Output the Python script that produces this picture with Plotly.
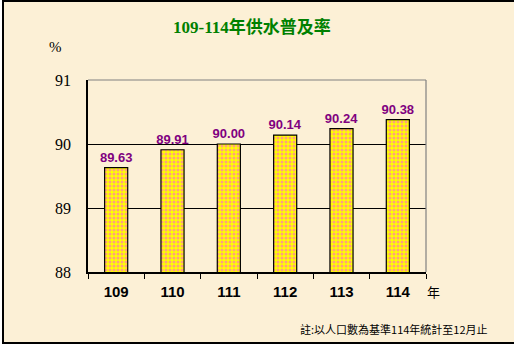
import plotly.graph_objects as go

years = ["109", "110", "111", "112", "113", "114"]
rates = [89.63, 89.91, 90.00, 90.14, 90.24, 90.38]
y_ticks = [88, 89, 90, 91]

W, H = 514, 345
L, R, T, B = 88, 88, 80, 73
pw, ph = W - L - R, H - T - B

def px(x):
    return (x - L) / pw

def py(y):
    return (H - B - y) / ph

fig = go.Figure()
fig.add_trace(go.Bar(
    x=years, y=rates, width=0.41,
    marker=dict(color="#FFFF00", line=dict(color="black", width=1.2),
                pattern=dict(shape=".", fgcolor="#FF40FF", bgcolor="#FFFF00",
                             size=4, solidity=0.45)),
    text=[f"{v:.2f}" for v in rates], textposition="outside",
    textfont=dict(family="Liberation Sans, Arial", size=13, color="#800080", weight="bold"),
    cliponaxis=False,
))

fig.update_layout(
    width=W, height=H,
    margin=dict(l=L, r=R, t=T, b=B),
    paper_bgcolor="white", plot_bgcolor="rgba(0,0,0,0)",
    showlegend=False, bargap=0.59,
    font=dict(family="Liberation Serif, Noto Sans CJK TC", color="black"),
    uniformtext=dict(minsize=13, mode="show"),
    xaxis=dict(type="category", showgrid=False, showline=True, linecolor="black", linewidth=1.5,
               ticks="outside", ticklen=5, tickcolor="black", tickson="boundaries",
               tickfont=dict(family="Liberation Sans, Arial", size=15, color="black", weight="bold"),
               ticklabelstandoff=5, mirror=False),
    yaxis=dict(range=[88, 91], tickvals=y_ticks, showgrid=True, gridcolor="black", gridwidth=1.2,
               showline=True, linecolor="black", linewidth=1.5, ticks="",
               tickfont=dict(family="Liberation Serif, Times New Roman", size=16, color="black"),
               ticklabelstandoff=12, zeroline=False),
    shapes=[
        dict(type="rect", xref="paper", yref="paper", x0=px(3), x1=px(530), y0=py(343), y1=py(1),
             fillcolor="#FCF0D6", line=dict(color="black", width=2), layer="below"),
        dict(type="line", xref="paper", yref="paper", x0=0, x1=1, y0=1, y1=1,
             line=dict(color="#808080", width=1.2)),
        dict(type="line", xref="paper", yref="paper", x0=1, x1=1, y0=0, y1=1,
             line=dict(color="#808080", width=1.2)),
    ],
    annotations=[
        dict(text="<b>109-114年供水普及率</b>", xref="paper", yref="paper", x=px(252), y=py(27),
             xanchor="center", yanchor="middle",
             showarrow=False, font=dict(family="Liberation Serif, Noto Sans CJK TC", size=17, color="#008000")),
        dict(text="%", xref="paper", yref="paper", x=px(55), y=py(47),
             xanchor="center", yanchor="middle",
             showarrow=False, font=dict(family="Liberation Serif", size=15, color="black")),
        dict(text="年", xref="paper", yref="paper", x=px(434), y=py(291),
             xanchor="center", yanchor="middle",
             showarrow=False, font=dict(family="Noto Sans CJK TC", size=13, color="black")),
        dict(text="註:以人口數為基準114年統計至12月止", xref="paper", yref="paper", x=px(490), y=py(329),
             xanchor="right", yanchor="middle", showarrow=False,
             font=dict(family="Noto Sans CJK TC", size=11, color="black")),
    ],
)

fig.write_html("out.html")
